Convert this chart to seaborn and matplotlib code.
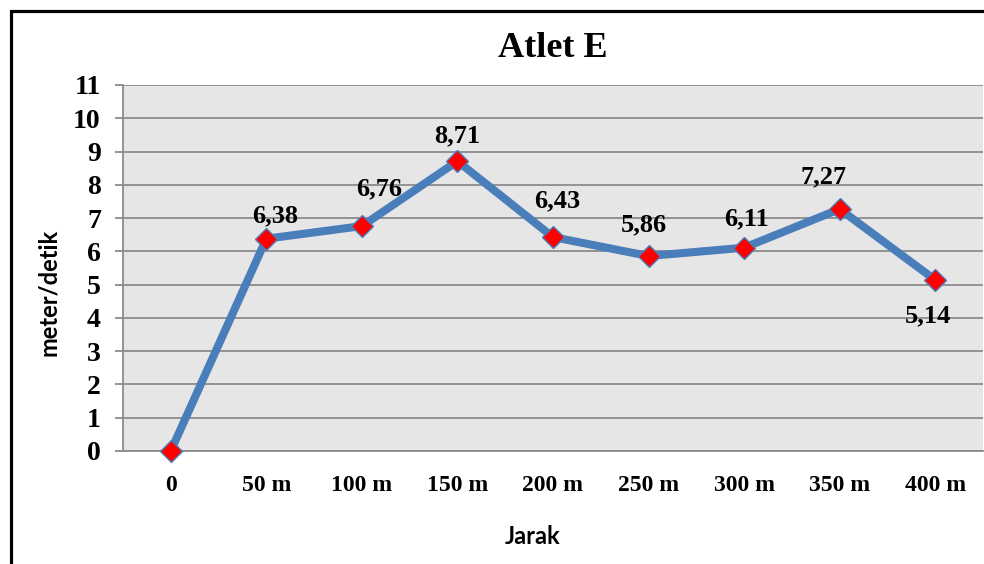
import matplotlib
matplotlib.use("Agg")
import matplotlib.pyplot as plt
import seaborn as sns
import pandas as pd
from matplotlib.patches import Rectangle

# Kecepatan atlet per segmen jarak
jarak = ["0", "50 m", "100 m", "150 m", "200 m", "250 m", "300 m", "350 m", "400 m"]
kecepatan = [0, 6.38, 6.76, 8.71, 6.43, 5.86, 6.11, 7.27, 5.14]
label_nilai = ["", "6,38", "6,76", "8,71", "6,43", "5,86", "6,11", "7,27", "5,14"]
y_ticks = list(range(0, 12))

df = pd.DataFrame({"Jarak": jarak, "Kecepatan": kecepatan})

sns.set_theme(style="white")
plt.rcParams["font.family"] = ["Liberation Serif", "DejaVu Serif"]
plt.rcParams["text.color"] = "black"
plt.rcParams["axes.labelcolor"] = "black"
plt.rcParams["xtick.color"] = "black"
plt.rcParams["ytick.color"] = "black"

fig = plt.figure(figsize=(9.84, 5.64), dpi=100)
ax = fig.add_axes([123 / 984, 1 - 451 / 564, 860 / 984, 366 / 564])
ax.set_facecolor("#E6E6E6")

grid_col = "#8C8C8C"
for y in y_ticks:
    ax.axhline(y, color=grid_col, lw=1.3, zorder=0.5)

sns.lineplot(data=df, x="Jarak", y="Kecepatan", sort=False, ax=ax,
             color="#4A7EBB", lw=5.8, marker="D", markersize=11,
             markerfacecolor="#FF0000", markeredgecolor="#4A7EBB",
             markeredgewidth=1.0, zorder=3, clip_on=False)

# posisi label nilai relatif terhadap titik (piksel)
offsets = [(0, 0), (9, 23), (17, 37), (0, 25), (4, 36), (-5, 31), (2, 29), (-16, 32), (-7, -36)]
for i, (v, txt) in enumerate(zip(kecepatan, label_nilai)):
    if not txt:
        continue
    dx, dy = offsets[i]
    ax.annotate(txt, (i, v), xytext=(dx, dy), textcoords="offset pixels",
                ha="center", va="center", fontsize=19, fontweight="bold",
                color="black", zorder=5)

ax.set_xlim(-0.5, len(jarak) - 0.5)
ax.set_ylim(0, 11)
ax.set_yticks(y_ticks)
ax.set_yticklabels([str(t) for t in y_ticks], fontsize=20, fontweight="bold")
ax.set_xticks(range(len(jarak)))
ax.set_xticklabels(jarak, fontsize=17, fontweight="bold")
ax.tick_params(axis="y", length=6, width=1.3, color=grid_col, labelcolor="black",
               pad=10, left=True)
ax.tick_params(axis="x", length=0, pad=17, labelcolor="black")

for side in ["top", "right"]:
    ax.spines[side].set_visible(False)
ax.spines["left"].set_color(grid_col)
ax.spines["left"].set_linewidth(1.3)
ax.spines["bottom"].set_color(grid_col)
ax.spines["bottom"].set_linewidth(1.3)

ax.set_title("Atlet E", fontsize=26, fontweight="bold", pad=20, color="black")
ax.set_xlabel("Jarak", family=["Lato", "DejaVu Sans"], fontsize=17,
              fontweight="bold", color="black", va="center", ha="center")
ax.xaxis.set_label_coords((533 - 123) / 860, (451 - 537) / 366)
ax.set_ylabel("meter/detik", family=["Lato", "DejaVu Sans"], fontsize=17,
              fontweight="bold", color="black", va="center", ha="center")
ax.yaxis.set_label_coords((48 - 123) / 860, (451 - 292) / 366)

# bingkai gambar
fig.patches.append(Rectangle((11 / 984, -0.1), 1.2, 1 - 11 / 564 + 0.1,
                             transform=fig.transFigure, fill=False,
                             edgecolor="black", lw=2.3, zorder=10))

fig.savefig("out.png", dpi=100)
